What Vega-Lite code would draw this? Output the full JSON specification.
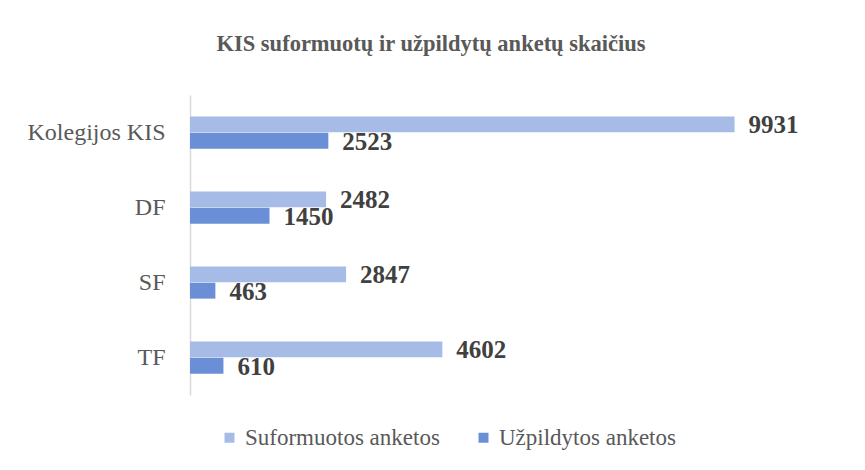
{
  "$schema": "https://vega.github.io/schema/vega-lite/v6.json",
  "autosize": {"type": "none"},
  "padding": {"left": 190, "top": 95, "right": 17, "bottom": 75},
  "width": 658,
  "height": 300,
  "background": "white",
  "title": {
    "text": "KIS suformuotų ir užpildytų anketų skaičius",
    "font": "Liberation Serif",
    "fontSize": 22.5,
    "fontWeight": "bold",
    "color": "#595959",
    "anchor": "middle",
    "dx": -88,
    "offset": 40
  },
  "data": {
    "values": [
      {"cat": "Kolegijos KIS", "series": "Suformuotos anketos", "value": 9931},
      {"cat": "Kolegijos KIS", "series": "Užpildytos anketos", "value": 2523},
      {"cat": "DF", "series": "Suformuotos anketos", "value": 2482},
      {"cat": "DF", "series": "Užpildytos anketos", "value": 1450},
      {"cat": "SF", "series": "Suformuotos anketos", "value": 2847},
      {"cat": "SF", "series": "Užpildytos anketos", "value": 463},
      {"cat": "TF", "series": "Suformuotos anketos", "value": 4602},
      {"cat": "TF", "series": "Užpildytos anketos", "value": 610}
    ]
  },
  "encoding": {
    "y": {
      "field": "cat",
      "type": "nominal",
      "sort": ["Kolegijos KIS", "DF", "SF", "TF"],
      "scale": {"paddingInner": 0.57, "paddingOuter": 0.285},
      "axis": {
        "title": null,
        "ticks": false,
        "domainColor": "#d9d9d9",
        "domainWidth": 1.5,
        "labelFont": "Liberation Serif",
        "labelFontSize": 24,
        "labelColor": "#595959",
        "labelPadding": 25,
        "labelLimit": 300
      }
    },
    "yOffset": {
      "field": "series",
      "type": "nominal",
      "sort": ["Suformuotos anketos", "Užpildytos anketos"],
      "scale": {"paddingInner": 0.03}
    },
    "x": {
      "field": "value",
      "type": "quantitative",
      "scale": {"domain": [0, 12000], "nice": false},
      "axis": null
    }
  },
  "layer": [
    {
      "mark": {"type": "bar"},
      "encoding": {
        "color": {
          "field": "series",
          "type": "nominal",
          "sort": ["Suformuotos anketos", "Užpildytos anketos"],
          "scale": {"range": ["#a6bce6", "#6a8fd6"]},
          "legend": {
            "title": null,
            "orient": "none",
            "legendX": 28,
            "legendY": 331,
            "direction": "horizontal",
            "symbolType": "square",
            "symbolSize": 100,
            "labelFont": "serif",
            "labelFontSize": 23,
            "labelColor": "#595959",
            "labelOffset": 4,
            "labelLimit": 400,
            "columnPadding": 32
          }
        }
      }
    },
    {
      "mark": {
        "type": "text",
        "align": "left",
        "baseline": "middle",
        "dx": 14,
        "dy": 1,
        "font": "Liberation Serif",
        "fontSize": 25,
        "fontWeight": "bold",
        "color": "#404040"
      },
      "encoding": {
        "text": {"field": "value", "type": "quantitative", "format": "d"}
      }
    }
  ],
  "config": {
    "font": "Liberation Serif",
    "view": {"stroke": null}
  }
}
